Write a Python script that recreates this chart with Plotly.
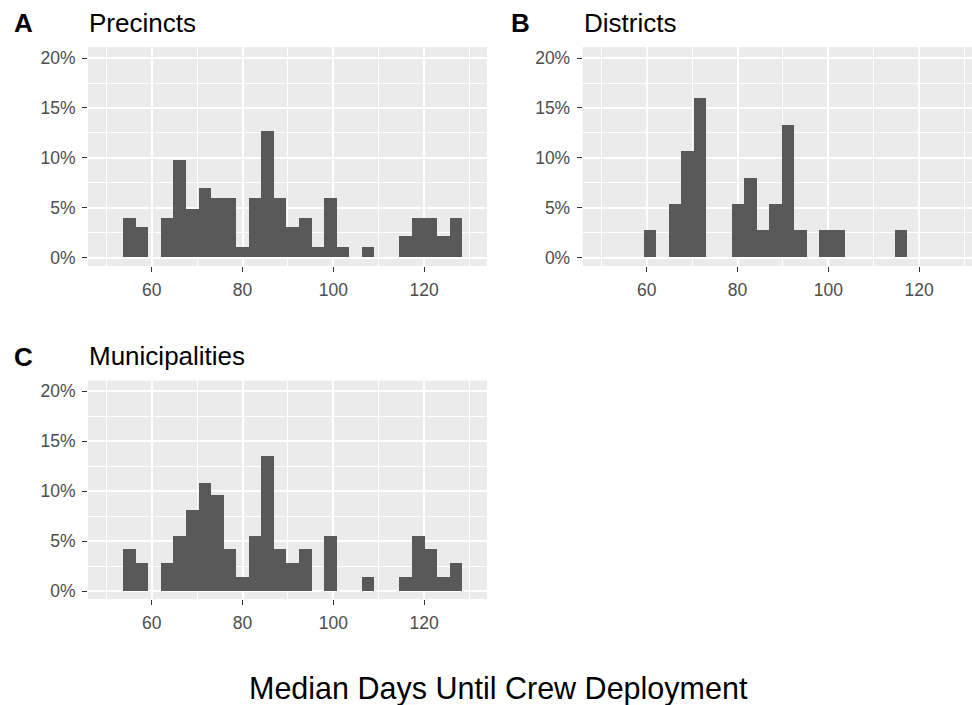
import plotly.graph_objects as go

# ---- data ----
bin_centers = [55.12, 57.89, 60.65, 63.42, 66.18, 68.95, 71.71, 74.48, 77.24,
               80.01, 82.77, 85.54, 88.30, 91.07, 93.83, 96.60, 99.36, 102.13,
               104.89, 107.66, 110.42, 113.19, 115.95, 118.72, 121.48, 124.25, 127.01]
bin_width = 2.765

precincts_pct = [4.0, 3.0, 0, 4.0, 9.8, 4.9, 6.95, 5.95, 5.95, 1.07, 5.95, 12.7, 5.95, 3.0,
                 4.0, 1.07, 5.95, 1.07, 0, 1.07, 0, 0, 2.1, 4.0, 4.0, 2.1, 4.0]
districts_pct = [0, 0, 2.7, 0, 5.35, 10.65, 15.95, 0, 0, 5.35, 8.0, 2.7, 5.35, 13.3,
                 2.7, 0, 2.7, 2.7, 0, 0, 0, 0, 2.7, 0, 0, 0, 0]
municipalities_pct = [4.2, 2.8, 0, 2.8, 5.5, 8.15, 10.9, 9.6, 4.2, 1.4, 5.5, 13.6, 4.2, 2.8,
                      4.2, 0, 5.5, 0, 0, 1.4, 0, 0, 1.4, 5.5, 4.2, 1.4, 2.8]

panel_tags = ["A", "B", "C"]
panel_titles = ["Precincts", "Districts", "Municipalities"]
x_title = "Median Days Until Crew Deployment"
x_ticks = [60, 80, 100, 120]
y_ticks = [0, 5, 10, 15, 20]

W, H = 972, 705
FONT = "Liberation Sans, Arial, sans-serif"
BAR = "#595959"
BG = "#EBEBEB"

def px_x(p):
    return p / W

def px_y(p):
    return 1 - p / H

fig = go.Figure()

series = [precincts_pct, districts_pct, municipalities_pct]
# pixel boxes (left, right, top, bottom) and ranges
panels = [
    dict(box=(88, 487, 47.3, 266.8), xr=[45.97, 133.85], yr=[-0.85, 21.1]),
    dict(box=(582.7, 972, 47.3, 266.8), xr=[45.90, 131.65], yr=[-0.85, 21.1]),
    dict(box=(88, 487, 381.7, 600.7), xr=[45.97, 133.85], yr=[-0.8, 21.06]),
]

for i, (vals, p) in enumerate(zip(series, panels)):
    n = "" if i == 0 else str(i + 1)
    fig.add_trace(go.Bar(x=bin_centers, y=vals, width=bin_width,
                         marker=dict(color=BAR, line=dict(width=0)),
                         xaxis="x" + n, yaxis="y" + n, showlegend=False,
                         hoverinfo="x+y"))
    l, r, t, b = p["box"]
    common = dict(showline=False, zeroline=False, ticks="outside", ticklen=5,
                  tickwidth=1, tickcolor="#333333",
                  tickfont=dict(family=FONT, size=17.5, color="#4D4D4D"),
                  showgrid=True, gridcolor="white", gridwidth=1.6)
    fig.update_layout(**{
        "xaxis" + n: dict(domain=[px_x(l), px_x(r)], range=p["xr"],
                          tickmode="array", tickvals=x_ticks,
                          minor=dict(dtick=10, tick0=0, showgrid=True,
                                     gridcolor="white", gridwidth=0.8, ticks=""),
                          anchor="y" + n, ticklabelstandoff=3, **common),
        "yaxis" + n: dict(domain=[px_y(b), px_y(t)], range=p["yr"],
                          tickmode="array", tickvals=y_ticks,
                          ticktext=[f"{v}%" for v in y_ticks],
                          minor=dict(dtick=2.5, tick0=0, showgrid=True,
                                     gridcolor="white", gridwidth=0.8, ticks=""),
                          anchor="x" + n, ticklabelstandoff=3, **common),
    })

annotations = []
tag_pos = [(11.5, 23.5), (508.5, 23.5), (11.5, 358.3)]
title_pos = [(86.5, 23.2), (581.5, 23.2), (86.5, 357.2)]
for tag, title, (tx, ty), (sx, sy) in zip(panel_tags, panel_titles, tag_pos, title_pos):
    annotations.append(dict(text=f"<b>{tag}</b>", x=px_x(tx), y=px_y(ty),
                            xref="paper", yref="paper", xanchor="left", yanchor="middle",
                            showarrow=False, font=dict(family=FONT, size=26, color="black")))
    annotations.append(dict(text=title, x=px_x(sx), y=px_y(sy),
                            xref="paper", yref="paper", xanchor="left", yanchor="middle",
                            showarrow=False, font=dict(family=FONT, size=26, color="black")))
annotations.append(dict(text=x_title, x=px_x(498.5), y=px_y(690),
                        xref="paper", yref="paper", xanchor="center", yanchor="middle",
                        showarrow=False, font=dict(family=FONT, size=30.5, color="black")))

fig.update_layout(width=W, height=H, margin=dict(l=0, r=0, t=0, b=0),
                  paper_bgcolor="white", plot_bgcolor=BG, bargap=0,
                  annotations=annotations)

fig.write_html("out.html", config={"displayModeBar": False},
               post_script="document.body.style.margin='0';document.body.style.overflow='hidden';")
